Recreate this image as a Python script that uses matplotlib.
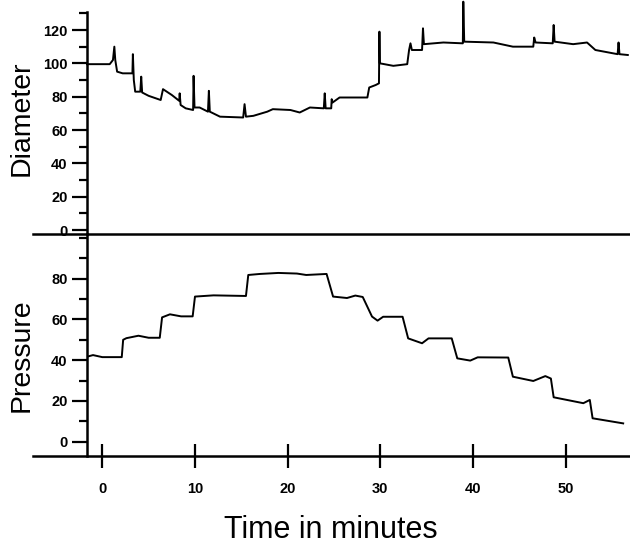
import matplotlib
matplotlib.use("Agg")
import matplotlib.pyplot as plt
from matplotlib.ticker import MultipleLocator

plt.rcParams["font.family"] = ["Liberation Sans", "DejaVu Sans"]

# Diameter trace (time in minutes, diameter), spikes
dia_t = [-1.65, 0.8, 1.15, 1.3, 1.4, 1.6, 2.2, 3.25, 3.3, 3.4, 3.55, 4.1, 4.2, 4.3,
         5.0, 6.3, 6.55, 7.5, 8.3, 8.35, 8.45, 9.0, 9.8, 9.85, 9.95, 10.5, 11.4,
         11.5, 11.6, 12.7, 15.2, 15.35, 15.5, 16.3, 17.8, 18.4, 20.3, 21.3, 22.4,
         23.9, 24.0, 24.1, 24.7, 24.75, 24.85, 25.6, 28.6, 28.8, 29.5, 29.85, 29.9,
         29.95, 31.4, 32.9, 33.1, 33.25, 33.4, 34.5, 34.6, 34.7, 36.8, 38.9, 38.95,
         39.05, 42.2, 44.3, 46.5, 46.6, 46.75, 48.6, 48.7, 48.8, 50.8, 52.3, 53.2,
         55.6, 55.7, 55.8, 56.7]
dia_v = [99.5, 99.5, 102, 110, 102, 95, 94, 94, 105.5, 90, 83, 83, 92, 82.5,
         80.5, 78, 84.5, 81, 77.5, 82, 75, 73, 72, 92.5, 73.5, 73.5, 71,
         83.5, 71, 68, 67.5, 75.5, 68, 68.5, 71, 72.5, 72, 70.5, 73.5,
         73, 82, 73, 73, 78.5, 76.5, 79.5, 79.5, 85.5, 87, 88, 119,
         100, 98.5, 99.5, 108, 112, 108, 108, 121, 111.5, 112.5, 112, 137,
         113, 112.5, 110, 110, 115.5, 112.5, 112, 123, 113, 111.5, 112.5, 108,
         105.5, 112.5, 105.5, 105]

# Pressure trace (time in minutes, pressure)
prs_t = [-1.65, -1.0, 0.0, 2.1, 2.25, 2.6, 3.9, 5.0, 6.2, 6.45, 7.3, 8.5, 9.75,
         10.0, 12.0, 15.5, 15.75, 17.0, 19.0, 21.0, 22.0, 24.2, 24.9, 26.4, 27.3,
         28.1, 29.1, 29.7, 30.3, 32.4, 33.0, 34.5, 35.2, 37.7, 38.3, 39.7, 40.5,
         43.8, 44.3, 46.5, 47.8, 48.4, 48.7, 51.9, 52.6, 52.9, 56.2]
prs_v = [41.7, 42.5, 41.5, 41.5, 50.0, 50.8, 52, 51, 51, 61, 62.5, 61.5, 61.5,
         71.2, 71.8, 71.5, 81.8, 82.3, 82.8, 82.5, 81.8, 82.3, 71.2, 70.5, 71.7,
         71.0, 61.4, 59.4, 61.3, 61.3, 50.7, 48.3, 50.7, 50.7, 40.9, 39.8, 41.4,
         41.3, 31.9, 29.8, 32.2, 31.0, 21.8, 18.9, 20.5, 11.5, 9.0]

dia_ticks = [0, 20, 40, 60, 80, 100, 120]
prs_ticks = [0, 20, 40, 60, 80]
x_ticks = [0, 10, 20, 30, 40, 50]

W, H = 630, 547
fig = plt.figure(figsize=(W / 100, H / 100), dpi=100)

left, right = 87, 628
ax1 = fig.add_axes([left / W, 1 - 234 / H, (right - left) / W, 234 / H])
ax2 = fig.add_axes([left / W, 1 - 456 / H, (right - left) / W, 222 / H])

AXLW = 1.8
TRLW = 1.4

# top panel: diameter
ax1.set_ylim(-2.4, 138)
ax1.plot(dia_t, dia_v, color="black", lw=TRLW, clip_on=False)
ax1.set_yticks(dia_ticks)
ax1.set_xticks([])

# bottom panel: pressure
ax2.set_ylim(-7.0, 101.9)
ax2.plot(prs_t, prs_v, color="black", lw=TRLW)
ax2.set_yticks(prs_ticks)
ax2.set_xticks(x_ticks)
ax2.tick_params(axis="x", direction="inout", length=17, width=1.6, pad=10,
                labelsize=10.5)

for ax in (ax1, ax2):
    ax.set_facecolor("none")
    ax.set_xlim(-1.65, 56.72)
    for s in ("top", "right", "bottom"):
        ax.spines[s].set_visible(False)
    ax.spines["left"].set_linewidth(AXLW)
    ax.yaxis.set_minor_locator(MultipleLocator(10))
    ax.axhline(ax.get_ylim()[0], xmin=-0.1, xmax=1.004, color="black",
               lw=AXLW, clip_on=False)
    ax.tick_params(axis="y", which="major", length=11, width=1.6, pad=3,
                   labelsize=10.5, direction="out")
    ax.tick_params(axis="y", which="minor", length=6, width=1.6, direction="out")
    for lab in ax.get_yticklabels() + ax.get_xticklabels():
        lab.set_fontweight("bold")

ax1.spines["left"].set_bounds(-2.4, 131)

fig.text(22 / W, 1 - 118 / H, "Diameter", rotation=90, ha="center",
         va="center", fontsize=20.5)
fig.text(22 / W, 1 - 355 / H, "Pressure", rotation=90, ha="center",
         va="center", fontsize=20.5)
fig.text(331 / W, 1 - 530 / H, "Time in minutes", ha="center", va="center",
         fontsize=22)

fig.savefig("out.png", dpi=100)
